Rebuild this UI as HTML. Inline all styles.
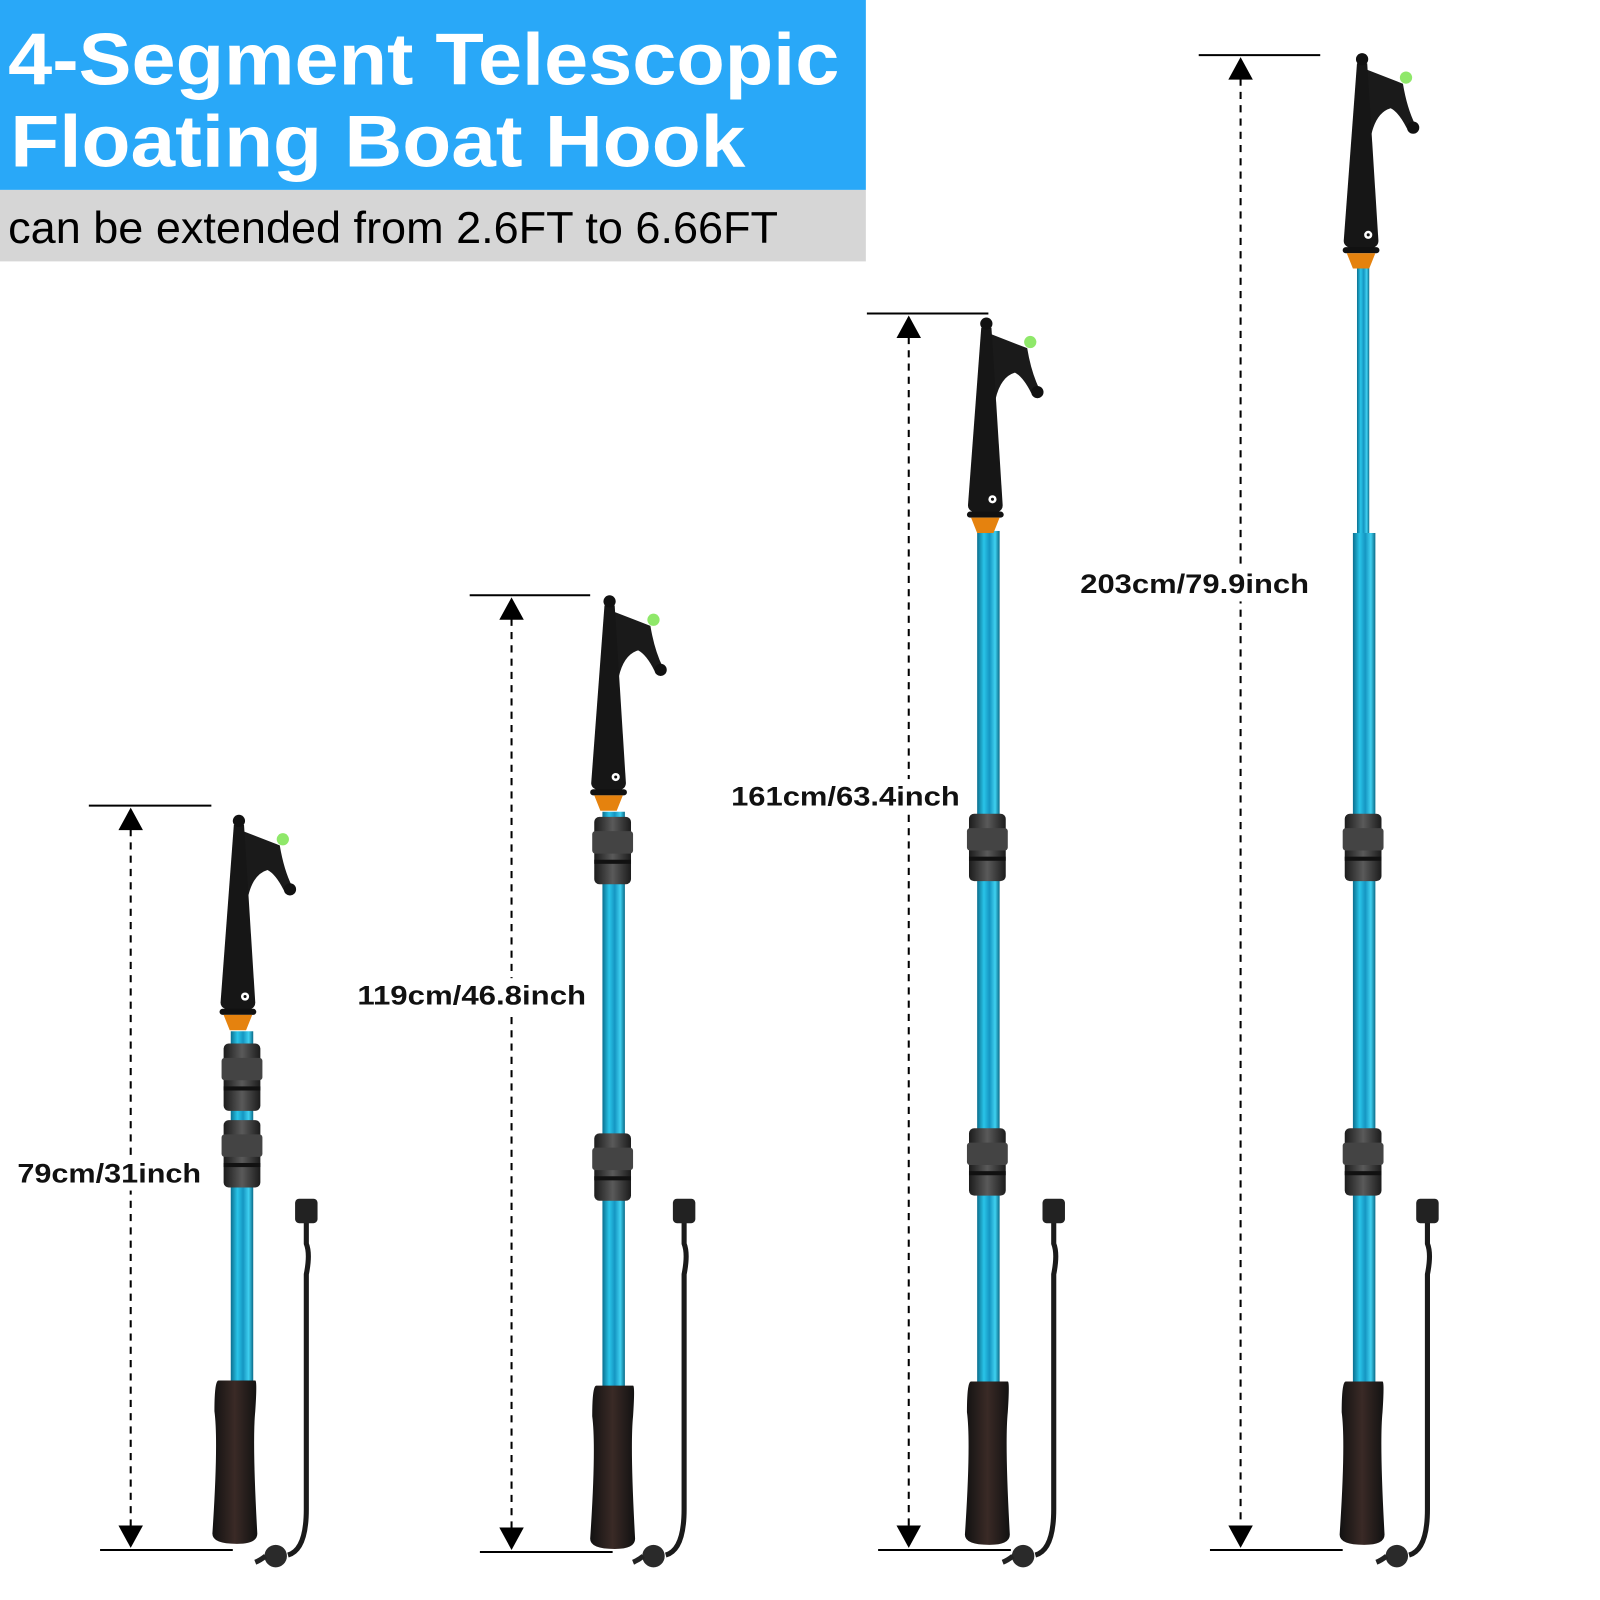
<!DOCTYPE html>
<html><head><meta charset="utf-8"><style>
html,body{margin:0;padding:0;background:#fff;}
svg{display:block;}
</style></head><body>
<svg width="1600" height="1600" viewBox="0 0 1567 1567" xmlns="http://www.w3.org/2000/svg">
<defs>
<linearGradient id="blue" x1="0" x2="1" y1="0" y2="0">
<stop offset="0" stop-color="#0b6f8f"/><stop offset="0.3" stop-color="#29c4e8"/><stop offset="0.55" stop-color="#1596c2"/><stop offset="0.8" stop-color="#3fd0f0"/><stop offset="1" stop-color="#0a6a88"/></linearGradient>
<linearGradient id="grip" x1="0" x2="1"><stop offset="0" stop-color="#111"/><stop offset="0.5" stop-color="#3a2a26"/><stop offset="1" stop-color="#111"/></linearGradient>
<linearGradient id="clamp" x1="0" x2="1"><stop offset="0" stop-color="#1c1c1c"/><stop offset="0.5" stop-color="#5a5a5a"/><stop offset="1" stop-color="#1c1c1c"/></linearGradient>
<g id="hook">
<path d="M4,10 L40,24 Q44,48 52,64 L44,68 Q36,52 28,48 Q14,52 9,74 Z" fill="#1a1a1a"/>
<path d="M-5,4 L5,4 L16,178 Q16,186 0,187 Q-18,186 -18,178 Z" fill="#161616"/>
<circle cx="0" cy="0" r="6" fill="#111"/>
<circle cx="50" cy="67" r="6" fill="#111"/>
<circle cx="43" cy="18" r="6" fill="#8fe86a"/>
<rect x="-19" y="184" width="36" height="6" rx="3" fill="#111"/>
<circle cx="6" cy="172" r="4" fill="#fff"/><circle cx="6" cy="172" r="1.5" fill="#111"/>
<path d="M-15,190 L13,190 L7,205 L-9,205 Z" fill="#e5820e"/>
</g>
<g id="clampg">
<rect x="-18" y="0" width="36" height="66" rx="5" fill="url(#clamp)"/>
<rect x="-20" y="14" width="40" height="22" rx="3" fill="#444"/>
<rect x="-18" y="42" width="36" height="4" fill="#111"/>
</g>
<g id="handle">
<path d="M-18,0 L18,0 Q20,0 18,30 Q15,60 20,150 Q20,160 0,160 Q-24,160 -24,150 Q-18,60 -22,30 Q-22,0 -18,0 Z" fill="url(#grip)"/>
</g>
<g id="lanyard">
<path d="M0,0 L0,30 Q4,40 0,60 L0,290 Q0,330 -18,335" stroke="#1a1a1a" stroke-width="5" fill="none"/>
<rect x="-11" y="-14" width="22" height="24" rx="4" fill="#222"/>
<circle cx="-30" cy="336" r="11" fill="#2a2a2a"/>
<path d="M-40,336 Q-45,340 -50,342" stroke="#222" stroke-width="5" fill="none"/>
</g>
</defs>

<rect x="0" y="0" width="848" height="186" fill="#29a8f8"/>
<rect x="0" y="186" width="848" height="70" fill="#d6d6d6"/>
<text x="8" y="83" font-family="Liberation Sans, sans-serif" font-weight="bold" font-size="72" fill="#fff" textLength="814" lengthAdjust="spacingAndGlyphs">4-Segment Telescopic</text>
<text x="10" y="163" font-family="Liberation Sans, sans-serif" font-weight="bold" font-size="72" fill="#fff" textLength="720" lengthAdjust="spacingAndGlyphs">Floating Boat Hook</text>
<text x="8" y="238" font-family="Liberation Sans, sans-serif" font-size="44" fill="#000" textLength="754" lengthAdjust="spacingAndGlyphs">can be extended from 2.6FT to 6.66FT</text>

<g stroke="#000" stroke-width="2" fill="none">
<line x1="87" y1="789" x2="207" y2="789"/><line x1="98" y1="1518" x2="228" y2="1518"/>
<line x1="128" y1="812" x2="128" y2="1496" stroke-dasharray="7,6"/>
<line x1="460" y1="583" x2="578" y2="583"/><line x1="470" y1="1520" x2="600" y2="1520"/>
<line x1="501" y1="606" x2="501" y2="1498" stroke-dasharray="7,6"/>
<line x1="849" y1="307" x2="968" y2="307"/><line x1="860" y1="1518" x2="990" y2="1518"/>
<line x1="890" y1="330" x2="890" y2="1496" stroke-dasharray="7,6"/>
<line x1="1174" y1="54" x2="1293" y2="54"/><line x1="1185" y1="1518" x2="1315" y2="1518"/>
<line x1="1215" y1="77" x2="1215" y2="1496" stroke-dasharray="7,6"/>
</g>
<g fill="#000">
<path d="M128,791 L140,813 L116,813 Z"/><path d="M128,1516 L140,1494 L116,1494 Z"/>
<path d="M501,585 L513,607 L489,607 Z"/><path d="M501,1518 L513,1496 L489,1496 Z"/>
<path d="M890,309 L902,331 L878,331 Z"/><path d="M890,1516 L902,1494 L878,1494 Z"/>
<path d="M1215,56 L1227,78 L1203,78 Z"/><path d="M1215,1516 L1227,1494 L1203,1494 Z"/>
</g>
<g font-family="Liberation Sans, sans-serif" font-weight="bold" font-size="26" fill="#111">
<rect x="12" y="1132" width="188" height="34" fill="#fff"/>
<text x="17" y="1158" textLength="180" lengthAdjust="spacingAndGlyphs">79cm/31inch</text>
<rect x="345" y="958" width="232" height="34" fill="#fff"/>
<text x="350" y="984" textLength="224" lengthAdjust="spacingAndGlyphs">119cm/46.8inch</text>
<rect x="711" y="763" width="232" height="34" fill="#fff"/>
<text x="716" y="789" textLength="224" lengthAdjust="spacingAndGlyphs">161cm/63.4inch</text>
<rect x="1053" y="555" width="232" height="34" fill="#fff"/>
<text x="1058" y="581" textLength="224" lengthAdjust="spacingAndGlyphs">203cm/79.9inch</text>
</g>

<rect x="226" y="1010" width="22" height="345" fill="url(#blue)"/>
<use href="#clampg" transform="translate(237,1022)"/>
<use href="#clampg" transform="translate(237,1097)"/>
<use href="#handle" transform="translate(232,1352)"/>
<use href="#lanyard" transform="translate(300,1188)"/>
<use href="#hook" transform="translate(234,804)"/>

<rect x="590" y="795" width="22" height="565" fill="url(#blue)"/>
<use href="#clampg" transform="translate(600,800)"/>
<use href="#clampg" transform="translate(600,1110)"/>
<use href="#handle" transform="translate(602,1357)"/>
<use href="#lanyard" transform="translate(670,1188)"/>
<use href="#hook" transform="translate(597,589)"/>

<rect x="957" y="520" width="22" height="840" fill="url(#blue)"/>
<use href="#clampg" transform="translate(967,797)"/>
<use href="#clampg" transform="translate(967,1105)"/>
<use href="#handle" transform="translate(969,1353)"/>
<use href="#lanyard" transform="translate(1032,1188)"/>
<use href="#hook" transform="translate(966,317)"/>

<rect x="1329" y="258" width="12" height="268" fill="url(#blue)"/>
<rect x="1325" y="522" width="22" height="840" fill="url(#blue)"/>
<use href="#clampg" transform="translate(1335,797)"/>
<use href="#clampg" transform="translate(1335,1105)"/>
<use href="#handle" transform="translate(1336,1353)"/>
<use href="#lanyard" transform="translate(1398,1188)"/>
<use href="#hook" transform="translate(1334,58)"/>
</svg>
</body></html>
